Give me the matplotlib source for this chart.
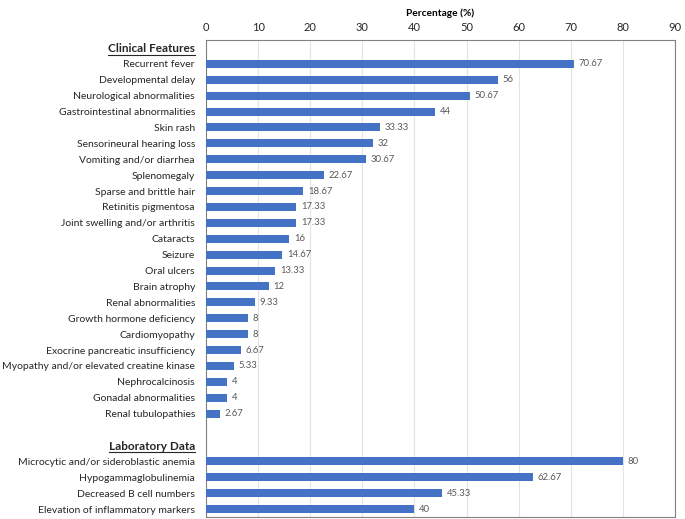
import numpy as np
import matplotlib
matplotlib.use("Agg")
import matplotlib.pyplot as plt

plt.rcParams['font.family'] = ['Lato', 'DejaVu Sans']

clinical_labels = ["Recurrent fever", "Developmental delay", "Neurological abnormalities",
                   "Gastrointestinal abnormalities", "Skin rash", "Sensorineural hearing loss",
                   "Vomiting and/or diarrhea", "Splenomegaly", "Sparse and brittle hair",
                   "Retinitis pigmentosa", "Joint swelling and/or arthritis", "Cataracts",
                   "Seizure", "Oral ulcers", "Brain atrophy", "Renal abnormalities",
                   "Growth hormone deficiency", "Cardiomyopathy",
                   "Exocrine pancreatic insufficiency",
                   "Myopathy and/or elevated creatine kinase", "Nephrocalcinosis",
                   "Gonadal abnormalities", "Renal tubulopathies"]
clinical_values = [70.67, 56, 50.67, 44, 33.33, 32, 30.67, 22.67, 18.67, 17.33, 17.33, 16,
                   14.67, 13.33, 12, 9.33, 8, 8, 6.67, 5.33, 4, 4, 2.67]
lab_labels = ["Microcytic and/or sideroblastic anemia", "Hypogammaglobulinemia",
              "Decreased B cell numbers", "Elevation of inflammatory markers"]
lab_values = [80, 62.67, 45.33, 40]
group_titles = ["Clinical Features", "Laboratory Data"]

# build rows: header, items, blank, header, items
rows = [(group_titles[0], None, True)]
rows += [(l, v, False) for l, v in zip(clinical_labels, clinical_values)]
rows += [("", None, False)]
rows += [(group_titles[1], None, True)]
rows += [(l, v, False) for l, v in zip(lab_labels, lab_values)]

fig = plt.figure(figsize=(6.85, 5.19), dpi=100)
ax = fig.add_axes([206 / 685, 2 / 519, 469 / 685, 477 / 519])

bar_color = "#4472C4"
ypos = np.arange(len(rows))
for y, (lab, val, hdr) in zip(ypos, rows):
    if val is not None:
        ax.barh(y, val, height=0.5, color=bar_color, zorder=3)
        ax.text(val + 0.9, y, f"{val:g}", va="center", ha="left", fontsize=6.8,
                color="#595959")

ax.set_ylim(len(rows) - 0.5, -0.5)
ax.set_xlim(0, 90)
ax.set_xticks(np.arange(0, 91, 10))
ax.xaxis.tick_top()
ax.xaxis.set_label_position("top")
ax.set_xlabel("Percentage (%)", fontsize=7.3, fontweight="bold", labelpad=4)
ax.tick_params(axis="x", length=0, labelsize=8, pad=5, labelcolor="#262626")
ax.grid(axis="x", color="#E3E3E3", linewidth=0.8, zorder=0)

ax.set_yticks(ypos)
ax.set_yticklabels([r[0] for r in rows], fontsize=7.5, color="#262626")
ax.tick_params(axis="y", length=0, pad=8)
for tl, r in zip(ax.get_yticklabels(), rows):
    if r[2]:
        tl.set_fontweight("bold")
        tl.set_fontsize(8.5)

for s in ax.spines.values():
    s.set_color("#808080")
    s.set_linewidth(0.8)

# underline the group headers
fig.canvas.draw()
renderer = fig.canvas.get_renderer()
for tl, r in zip(ax.get_yticklabels(), rows):
    if r[2]:
        bb = tl.get_window_extent(renderer)
        fig.add_artist(plt.Line2D([bb.x0 / 685, bb.x1 / 685],
                                  [(bb.y0 - 0.5) / 519, (bb.y0 - 0.5) / 519],
                                  color="#262626", linewidth=0.8))

fig.savefig("out.png", dpi=100)
